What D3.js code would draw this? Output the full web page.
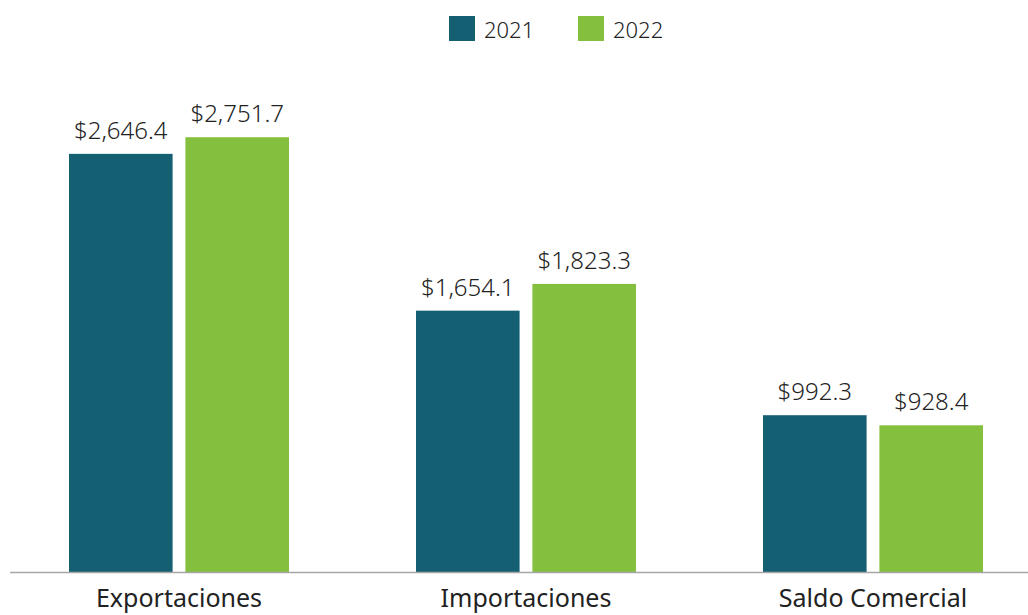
<!DOCTYPE html>
<html>
<head>
<meta charset="utf-8">
<script src="https://cdn.jsdelivr.net/npm/d3@7"></script>
<style>
  body { margin: 0; background: #fff; }
  svg text { font-family: "Noto Sans", "Open Sans", sans-serif; fill: #222; }
</style>
</head>
<body>
<div id="chart"></div>
<script>
const categories = ["Exportaciones", "Importaciones", "Saldo Comercial"];
const years = ["2021", "2022"];
const values2021 = [2646.4, 1654.1, 992.3];
const values2022 = [2751.7, 1823.3, 928.4];
const colors = ["#155f73", "#84bf3e"];

const width = 1028, height = 615;
const baseline = 572;

const svg = d3.select("#chart")
  .append("svg")
  .attr("width", width)
  .attr("height", height);

const rows = categories.map((c, i) => ({
  category: c,
  values: [
    { year: "2021", value: values2021[i] },
    { year: "2022", value: values2022[i] }
  ]
}));

const x0 = d3.scaleBand()
  .domain(categories)
  .range([5.5, 1046.5])
  .paddingInner(0.366)
  .paddingOuter(0.183);

const x1 = d3.scaleBand()
  .domain(years)
  .range([0, x0.bandwidth()])
  .paddingInner(0.11);

const y = d3.scaleLinear()
  .domain([0, 3000])
  .range([baseline, baseline - 474]);

const color = d3.scaleOrdinal().domain(years).range(colors);

const fmt = d => "$" + d3.format(",.1f")(d);

const group = svg.append("g")
  .selectAll("g")
  .data(rows)
  .join("g")
  .attr("transform", d => `translate(${x0(d.category)},0)`);

group.selectAll("rect")
  .data(d => d.values)
  .join("rect")
  .attr("x", d => x1(d.year))
  .attr("y", d => y(d.value))
  .attr("width", x1.bandwidth())
  .attr("height", d => y(0) - y(d.value))
  .attr("fill", d => color(d.year));

group.selectAll("text.val")
  .data(d => d.values)
  .join("text")
  .attr("class", "val")
  .attr("x", d => x1(d.year) + x1.bandwidth() / 2)
  .attr("y", d => y(d.value) - 15)
  .attr("text-anchor", "middle")
  .attr("font-size", "24px")
  .attr("font-weight", 300)
  .text(d => fmt(d.value));

// baseline
svg.append("line")
  .attr("x1", 10)
  .attr("x2", width)
  .attr("y1", baseline + 0.5)
  .attr("y2", baseline + 0.5)
  .attr("stroke", "#a6a6a6")
  .attr("stroke-width", 1.5);

// category labels
svg.append("g")
  .selectAll("text")
  .data(categories)
  .join("text")
  .attr("x", d => x0(d) + x0.bandwidth() / 2)
  .attr("y", 607)
  .attr("text-anchor", "middle")
  .attr("font-size", "25px")
  .text(d => d);

// legend
const legend = svg.append("g")
  .selectAll("g")
  .data(years)
  .join("g")
  .attr("transform", (d, i) => `translate(${449 + i * 129},16)`);

legend.append("rect")
  .attr("width", 26)
  .attr("height", 25)
  .attr("fill", d => color(d));

legend.append("text")
  .attr("x", 35)
  .attr("y", 22)
  .attr("font-size", "22px")
  .attr("font-weight", 300)
  .text(d => d);
</script>
</body>
</html>
